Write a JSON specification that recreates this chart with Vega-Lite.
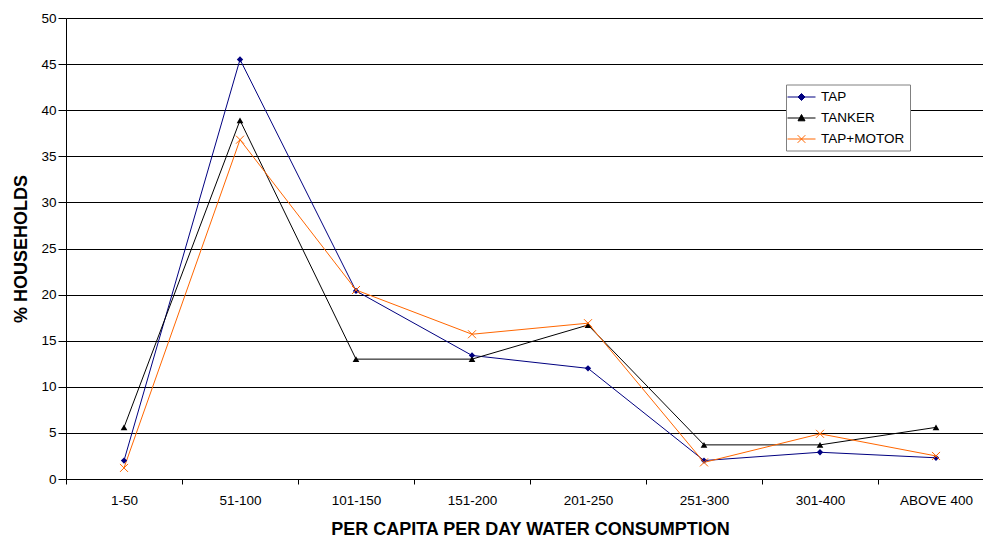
{
  "$schema": "https://vega.github.io/schema/vega-lite/v6.json",
  "autosize": {"type": "none"},
  "width": 917,
  "height": 461,
  "padding": {"left": 66, "top": 18, "right": 0, "bottom": 62},
  "background": "white",
  "config": {
    "view": {"stroke": null},
    "font": "Liberation Sans"
  },
  "data": {
    "values": [
      {"range": "1-50", "series": "TAP", "pct": 2.0},
      {"range": "51-100", "series": "TAP", "pct": 45.5},
      {"range": "101-150", "series": "TAP", "pct": 20.4},
      {"range": "151-200", "series": "TAP", "pct": 13.4},
      {"range": "201-250", "series": "TAP", "pct": 12.0},
      {"range": "251-300", "series": "TAP", "pct": 2.0},
      {"range": "301-400", "series": "TAP", "pct": 2.9},
      {"range": "ABOVE 400", "series": "TAP", "pct": 2.3},
      {"range": "1-50", "series": "TANKER", "pct": 5.6},
      {"range": "51-100", "series": "TANKER", "pct": 38.9},
      {"range": "101-150", "series": "TANKER", "pct": 13.0},
      {"range": "151-200", "series": "TANKER", "pct": 13.0},
      {"range": "201-250", "series": "TANKER", "pct": 16.7},
      {"range": "251-300", "series": "TANKER", "pct": 3.7},
      {"range": "301-400", "series": "TANKER", "pct": 3.7},
      {"range": "ABOVE 400", "series": "TANKER", "pct": 5.6},
      {"range": "1-50", "series": "TAP+MOTOR", "pct": 1.2},
      {"range": "51-100", "series": "TAP+MOTOR", "pct": 36.8},
      {"range": "101-150", "series": "TAP+MOTOR", "pct": 20.5},
      {"range": "151-200", "series": "TAP+MOTOR", "pct": 15.7},
      {"range": "201-250", "series": "TAP+MOTOR", "pct": 16.9},
      {"range": "251-300", "series": "TAP+MOTOR", "pct": 1.8},
      {"range": "301-400", "series": "TAP+MOTOR", "pct": 4.9},
      {"range": "ABOVE 400", "series": "TAP+MOTOR", "pct": 2.5}
    ]
  },
  "encoding": {
    "x": {
      "field": "range",
      "type": "ordinal",
      "sort": ["1-50", "51-100", "101-150", "151-200", "201-250", "251-300", "301-400", "ABOVE 400"],
      "scale": {"type": "band", "paddingInner": 0, "paddingOuter": 0, "range": [0, 928]},
      "axis": {
        "title": "PER CAPITA PER DAY WATER CONSUMPTION",
        "titleFontSize": 18,
        "titleFontWeight": "bold",
        "titleColor": "black",
        "titlePadding": 14,
        "labelAngle": 0,
        "labelFontSize": 13.5,
        "labelColor": "black",
        "labelPadding": 9,
        "tickBand": "extent",
        "tickSize": 5,
        "tickColor": "black",
        "domainColor": "black",
        "grid": false
      }
    },
    "y": {
      "field": "pct",
      "type": "quantitative",
      "scale": {"domain": [0, 50], "nice": false},
      "axis": {
        "title": "% HOUSEHOLDS",
        "titleFontSize": 18,
        "titleFontWeight": "bold",
        "titleColor": "black",
        "titlePadding": 10,
        "values": [0, 5, 10, 15, 20, 25, 30, 35, 40, 45, 50],
        "labelFontSize": 13.5,
        "labelColor": "black",
        "labelPadding": 2,
        "tickSize": 8,
        "tickColor": "black",
        "domainColor": "black",
        "grid": true,
        "gridColor": "black",
        "gridOpacity": 1
      }
    },
    "color": {
      "field": "series",
      "type": "nominal",
      "scale": {"domain": ["TAP", "TANKER", "TAP+MOTOR"], "range": ["#000080", "#000000", "#FF6600"]},
      "legend": {
        "title": null,
        "orient": "none",
        "legendX": 720,
        "legendY": 66.5,
        "padding": 5,
        "strokeColor": "#808080",
        "fillColor": "white",
        "labelFontSize": 13.5,
        "labelColor": "black",
        "symbolSize": 196,
        "symbolOffset": 3,
        "labelOffset": 12,
        "rowPadding": 7,
        "encode": {
          "symbols": {
            "update": {
              "shape": {"signal": "datum.value === 'TAP' ? 'M-2,0L2,0M0,-0.5L0.5,0L0,0.5L-0.5,0Z' : datum.value === 'TANKER' ? 'M-2,0L2,0M0,-0.5L0.5,0.4L-0.5,0.4Z' : 'M-2,0L2,0M-0.55,-0.55L0.55,0.55M-0.55,0.55L0.55,-0.55'"},
              "stroke": {"signal": "scale('color', datum.value)"},
              "fill": {"signal": "scale('color', datum.value)"},
              "strokeWidth": {"value": 1},
              "size": {"value": 196},
              "opacity": {"value": 1},
              "fillOpacity": {"value": 1},
              "strokeOpacity": {"value": 1}
            }
          }
        }
      }
    }
  },
  "layer": [
    {
      "mark": {"type": "line", "strokeWidth": 1}
    },
    {
      "transform": [{"filter": "datum.series === 'TAP'"}],
      "mark": {"type": "point", "filled": true, "shape": "diamond", "size": 40, "opacity": 1}
    },
    {
      "transform": [{"filter": "datum.series === 'TANKER'"}],
      "mark": {"type": "point", "filled": true, "shape": "triangle-up", "size": 45, "opacity": 1}
    },
    {
      "transform": [{"filter": "datum.series === 'TAP+MOTOR'"}],
      "mark": {"type": "point", "filled": false, "shape": "M-1,-1L1,1M-1,1L1,-1", "size": 64, "strokeWidth": 1, "opacity": 1}
    }
  ]
}
